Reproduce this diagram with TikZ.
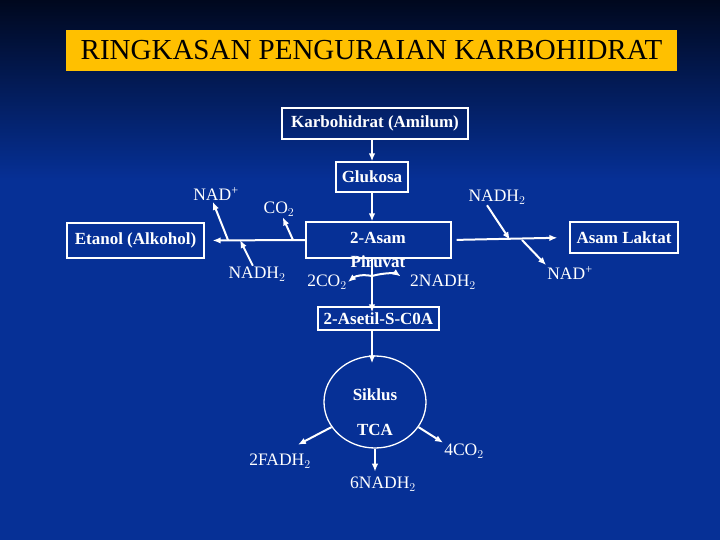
\documentclass[tikz,border=0pt]{standalone}
\usepackage{fontspec}
\setmainfont{Liberation Serif}
\usepackage{tikz}
\usetikzlibrary{arrows.meta,shapes.geometric}

\definecolor{bgdark}{RGB}{0,8,30}
\definecolor{bgblue}{RGB}{6,48,150}
\definecolor{titleyellow}{RGB}{255,192,0}

\begin{document}
\begin{tikzpicture}[x=1pt, y=-1pt, >={Latex[length=8pt,width=6.5pt]}]
  \tikzset{box/.style={draw=white, line width=1.3pt, rectangle, inner sep=0pt,
                       text=white, font=\fontsize{17}{20}\selectfont\bfseries},
           lbl/.style={text=white, inner sep=1pt, font=\fontsize{17.5}{20}\selectfont},
           flow/.style={draw=white, line width=2pt, ->}}

  \fill[bgblue] (0,0) rectangle (720,540);
  \shade[top color=bgdark, bottom color=bgblue] (0,0) rectangle (720,180);
  \useasboundingbox (0,0) rectangle (720,540);

  \node[fill=titleyellow, minimum width=611, minimum height=41, inner sep=0pt,
        font=\fontsize{29}{34}\selectfont] (title) at (371.5,50.5)
        {RINGKASAN PENGURAIAN KARBOHIDRAT};

  \coordinate (axis) at (372,0);

  \node[box, minimum width=186, minimum height=31] (karbo) at (375,123.5) {Karbohidrat (Amilum)};
  \node[box, minimum width=72, minimum height=30] (glukosa) at (372,177) {Glukosa};
  \node[box, minimum width=145, minimum height=36] (pbox) at (378.5,240) {};
  \node[text=white, align=center, font=\fontsize{17}{24}\selectfont\bfseries] (piruvat) at (378,250)
        {2-Asam\\Piruvat};
  \node[box, minimum width=137, minimum height=35] (etanol) at (135.5,240.5) {Etanol (Alkohol)};
  \node[box, minimum width=108, minimum height=31] (laktat) at (624,237.5) {Asam Laktat};
  \node[box, minimum width=121, minimum height=23] (asetil) at (378.5,318.5) {2-Asetil-S-C0A};
  \node[draw=white, line width=1.3pt, ellipse, minimum width=102, minimum height=92] (tca) at (375,402) {};
  \node[text=white, align=center, font=\fontsize{17}{35}\selectfont\bfseries] (siklus) at (375,412)
        {Siklus\\TCA};

  \node[lbl] (nad1) at (216,194) {NAD\textsuperscript{+}};
  \node[lbl] (co2a) at (279,209) {CO$_2$};
  \node[lbl] (nadh2a) at (257,274) {NADH$_2$};
  \node[lbl] (nadh2b) at (497,197) {NADH$_2$};
  \node[lbl] (nad2) at (570,273) {NAD\textsuperscript{+}};
  \node[lbl] (co2b) at (327,282) {2CO$_2$};
  \node[lbl] (nadh2c) at (443,282) {2NADH$_2$};
  \node[lbl] (fadh) at (280,461) {2FADH$_2$};
  \node[lbl] (nadh6) at (383,484) {6NADH$_2$};
  \node[lbl] (co4) at (464,451) {4CO$_2$};

  \coordinate (j1) at (228,240);
  \coordinate (j2) at (293,240);
  \coordinate (j3) at (240,240);
  \coordinate (j4) at (510,240);
  \coordinate (j5) at (522,240);
  \coordinate (jp) at (372,276);

  \draw[flow] (karbo.south -| axis) -- (glukosa.north -| axis);
  \draw[flow] (glukosa.south -| axis) -- (pbox.north -| axis);
  \draw[flow, shorten >=8pt] (pbox.west) -- (etanol.east);
  \draw[flow, shorten <=5pt, shorten >=12pt] (pbox.east) -- (laktat.west);
  \draw[flow] (j1) -- (nad1.-112);
  \draw[flow] (j2) -- (co2a);
  \draw[flow] (nadh2a) -- (j3);
  \draw[flow] ([xshift=-10pt]nadh2b.south) -- (j4);
  \draw[flow] (j5) -- (nad2.north west);

  \draw[flow, shorten >=-6pt] (pbox.south -| axis) -- (asetil.north -| axis);
  \draw[flow] (jp) to[bend right=25] (co2b.east);
  \draw[flow, shorten >=10pt] (jp) to[bend left=25] (nadh2c.west);
  \draw[flow, shorten >=-8pt] (asetil.south -| axis) -- (tca.north -| axis);

  \draw[flow] (tca.210) -- ([shift={(-14pt,8pt)}]fadh.north east);
  \draw[flow, shorten >=4pt] (tca.south) -- (tca.south |- nadh6.north);
  \draw[flow] (tca.-30) -- (co4.north west);
\end{tikzpicture}
\end{document}
